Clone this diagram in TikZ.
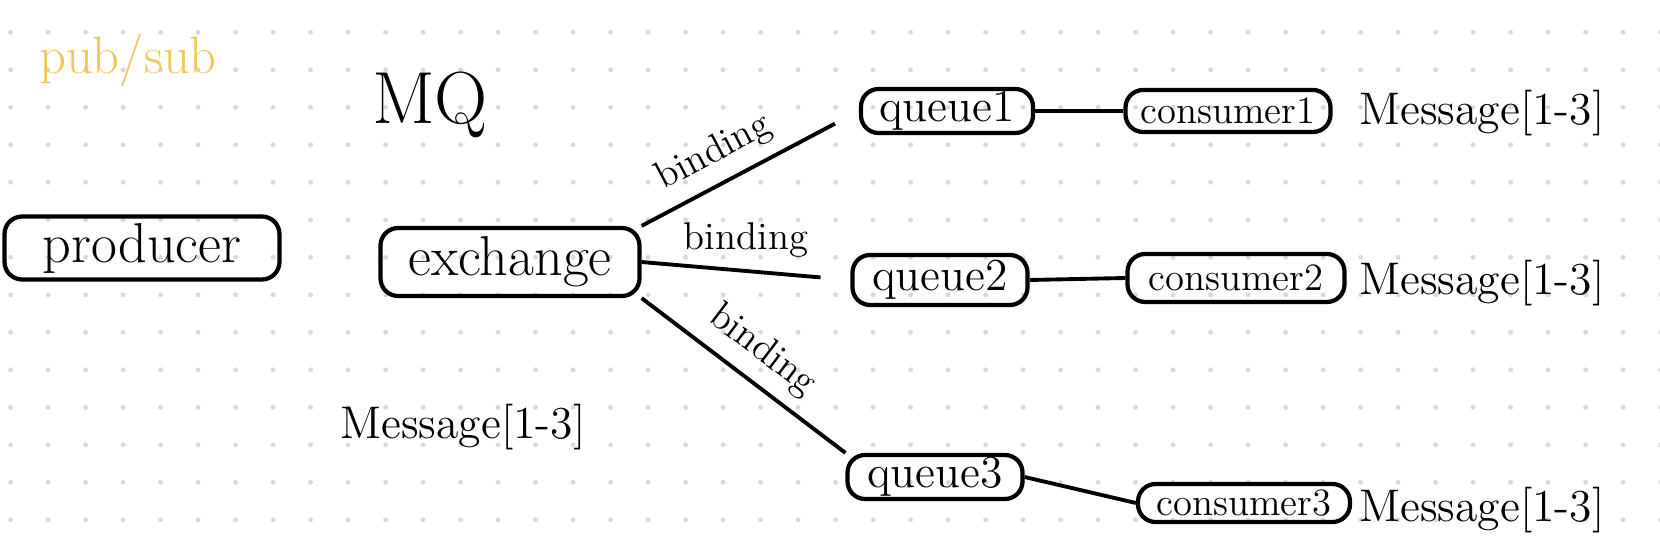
\documentclass[tikz,border=0pt]{standalone}
\usepackage{tikz}
\usetikzlibrary{arrows}
\definecolor{penyellow}{RGB}{240,200,90}
\tikzset{
  box/.style={draw, rounded corners=5pt, line width=1.2pt, inner sep=0pt},
  wire/.style={line width=1.1pt},
  bigtext/.style={font=\fontsize{16}{18}\selectfont},
  midtext/.style={font=\fontsize{13}{15}\selectfont},
  smalltext/.style={font=\fontsize{11}{13}\selectfont},
  msgtext/.style={font=\fontsize{13}{15}\selectfont},
}

\begin{document}
\begin{tikzpicture}
  \useasboundingbox (0,0) rectangle (16.6,5.57);
  % dotted paper
  \foreach \i in {0,...,44}
    \foreach \j in {0,...,13}
      \fill[gray!30] (0.106+0.375*\i, 5.247-0.375*\j) circle (0.7pt);

  \node[text=penyellow, font=\fontsize{15}{17}\selectfont] (Title) at (1.28,4.97) {pub/sub};
  \node[font=\fontsize{21}{24}\selectfont] (MQ) at (4.30,4.52) {MQ};

  \node[box, bigtext, minimum width=2.75cm, minimum height=0.63cm] (Producer) at (1.42,3.09) {producer};
  \node[box, bigtext, minimum width=2.59cm, minimum height=0.68cm] (Exchange) at (5.10,2.95) {exchange};

  \node[box, midtext, minimum width=1.72cm, minimum height=0.44cm] (Queue1) at (9.47,4.46) {queue1};
  \node[box, midtext, minimum width=1.75cm, minimum height=0.50cm] (Queue2) at (9.40,2.77) {queue2};
  \node[box, midtext, minimum width=1.75cm, minimum height=0.44cm] (Queue3) at (9.35,0.80) {queue3};

  \node[box, smalltext, minimum width=2.05cm, minimum height=0.42cm] (Consumer1) at (12.28,4.46) {consumer1};
  \node[box, smalltext, minimum width=2.17cm, minimum height=0.48cm] (Consumer2) at (12.36,2.79) {consumer2};
  \node[box, smalltext, minimum width=2.12cm, minimum height=0.38cm] (Consumer3) at (12.44,0.54) {consumer3};

  \node[msgtext] (Msg1) at (14.82,4.44) {Message[1-3]};
  \node[msgtext] (Msg2) at (14.82,2.74) {Message[1-3]};
  \node[msgtext] (Msg3) at (14.82,0.47) {Message[1-3]};
  \node[msgtext] (MsgIn) at (4.63,1.30) {Message[1-3]};

  \draw[wire, shorten >=0.27cm] (Exchange.north east) -- node[pos=0.4, above, sloped, smalltext] {binding} (Queue1.west);
  \draw[wire, shorten >=0.3cm] (Exchange.east) -- node[midway, above, smalltext] {binding} (Queue2.west);
  \draw[wire] (Exchange.south east) -- node[pos=0.5, above, sloped, smalltext] {binding} (Queue3.north west);

  \draw[wire] (Queue1.east) -- (Consumer1.west);
  \draw[wire] (Queue2.east) -- (Consumer2.west);
  \draw[wire] (Queue3.east) -- (Consumer3.west);
\end{tikzpicture}
\end{document}
